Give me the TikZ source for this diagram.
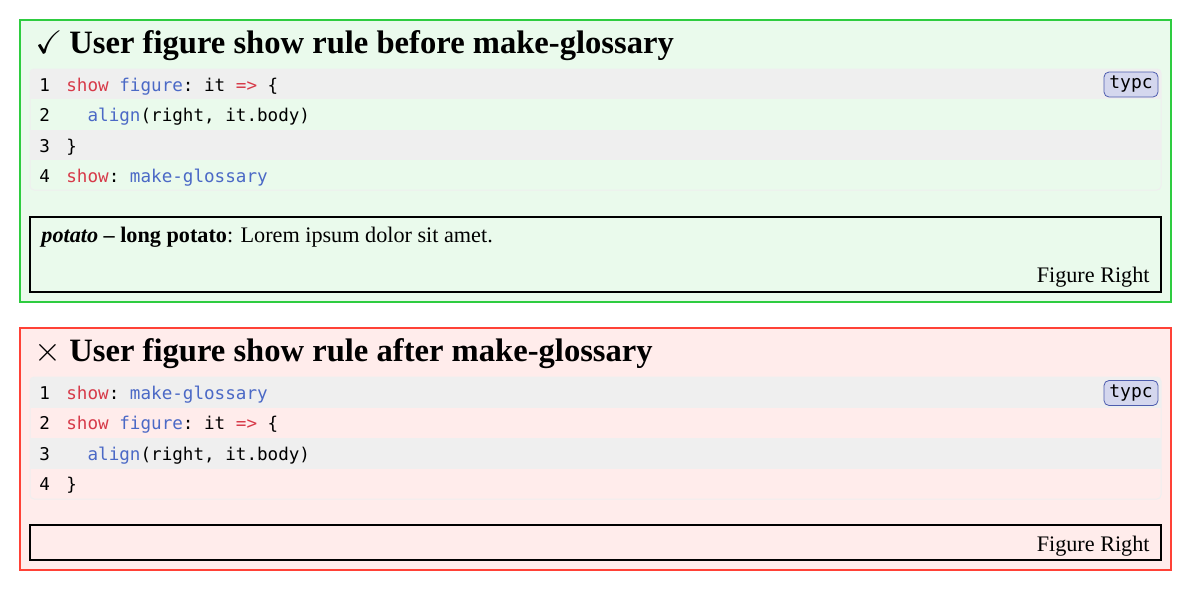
\documentclass[tikz,border=0pt]{standalone}
\usepackage{fontspec}
\usepackage{amssymb}
\setmainfont{Liberation Serif}
\setmonofont{DejaVu Sans Mono}

\definecolor{okline}{HTML}{2ECC40}
\definecolor{okfill}{HTML}{EAFAEC}
\definecolor{badline}{HTML}{FF4136}
\definecolor{badfill}{HTML}{FFECEB}
\definecolor{zebra}{HTML}{EFEFEF}
\definecolor{kwred}{HTML}{D73A49}
\definecolor{fnblue}{HTML}{4B69C6}
\definecolor{langfill}{HTML}{D4D7EE}
\definecolor{langline}{HTML}{4D5CAE}
\newcommand{\kw}[1]{\textcolor{kwred}{#1}}
\newcommand{\fn}[1]{\textcolor{fnblue}{#1}}

\tikzset{
  codeline/.style={anchor=base west, inner sep=0pt, font=\fontsize{8.8}{10}\ttfamily},
  langtag/.style={draw=langline, fill=langfill, rounded corners=2.5pt, line width=0.4pt,
    minimum width=27pt, minimum height=12.5pt, inner sep=0pt, font=\fontsize{9}{10}\ttfamily},
  titletext/.style={anchor=base west, inner sep=0pt, font=\fontsize{16.3}{19}\selectfont\bfseries},
  bodytext/.style={anchor=base west, inner sep=0pt, font=\fontsize{11.1}{13}\selectfont},
  figbox/.style={draw=black, line width=1pt},
}

\begin{document}
\begin{tikzpicture}[x=0.5pt,y=-0.5pt]
    \useasboundingbox (0,0) rectangle (1191,590);

    % rule before make-glossary
    \draw[okline, fill=okfill, line width=1pt] (20,20) rectangle (1171,302);
    \node[titletext] (okmark) at (35,53) {$\checkmark$};
    \node[titletext] (oktitle) at (69,53) {User figure show rule before make-glossary};
    \begin{scope}
        \clip[rounded corners=2pt] (30,69) rectangle (1161,190);
        \fill[zebra] (30,69) rectangle (1161,99.25);
        \fill[zebra] (30,129.5) rectangle (1161,159.75);
    \end{scope}
    \draw[zebra, rounded corners=2pt, line width=0.5pt] (30,69) rectangle (1161,190);
    \foreach \i/\txt in {1/{\kw{show} \fn{figure}: it \kw{=>} \{},
                         2/{\phantom{xx}\fn{align}(right, it.body)},
                         3/{\}},
                         4/{\kw{show}: \fn{make-glossary}}}{
        \node[codeline] (okno\i) at (39,61.25+30.25*\i) {\i};
        \node[codeline] (okcode\i) at (66,61.25+30.25*\i) {\txt};
    }
    \node[langtag] (oklang) at (1131,84.5) {typc};
    \draw[figbox] (30,217) rectangle (1161,292);
    \node[bodytext] (okentry) at (41,242) {\textbf{\textit{potato}} \textbf{-- long potato}: Lorem ipsum dolor sit amet.};
    \node[bodytext, anchor=base east] (okcaption) at (1150,282) {Figure Right};

    % rule after make-glossary
    \draw[badline, fill=badfill, line width=1pt] (20,328) rectangle (1171,570);
    \node[titletext] (badmark) at (34,361) {$\times$};
    \node[titletext] (badtitle) at (69,361) {User figure show rule after make-glossary};
    \begin{scope}
        \clip[rounded corners=2pt] (30,377) rectangle (1161,499);
        \fill[zebra] (30,377) rectangle (1161,407.5);
        \fill[zebra] (30,438) rectangle (1161,468.5);
    \end{scope}
    \draw[zebra, rounded corners=2pt, line width=0.5pt] (30,377) rectangle (1161,499);
    \foreach \i/\txt in {1/{\kw{show}: \fn{make-glossary}},
                         2/{\kw{show} \fn{figure}: it \kw{=>} \{},
                         3/{\phantom{xx}\fn{align}(right, it.body)},
                         4/{\}}}{
        \node[codeline] (badno\i) at (39,369.25+30.25*\i) {\i};
        \node[codeline] (badcode\i) at (66,369.25+30.25*\i) {\txt};
    }
    \node[langtag] (badlang) at (1131,393) {typc};
    \draw[figbox] (30,525) rectangle (1161,560);
    \node[bodytext, anchor=base east] (badcaption) at (1150,551) {Figure Right};
\end{tikzpicture}
\end{document}
